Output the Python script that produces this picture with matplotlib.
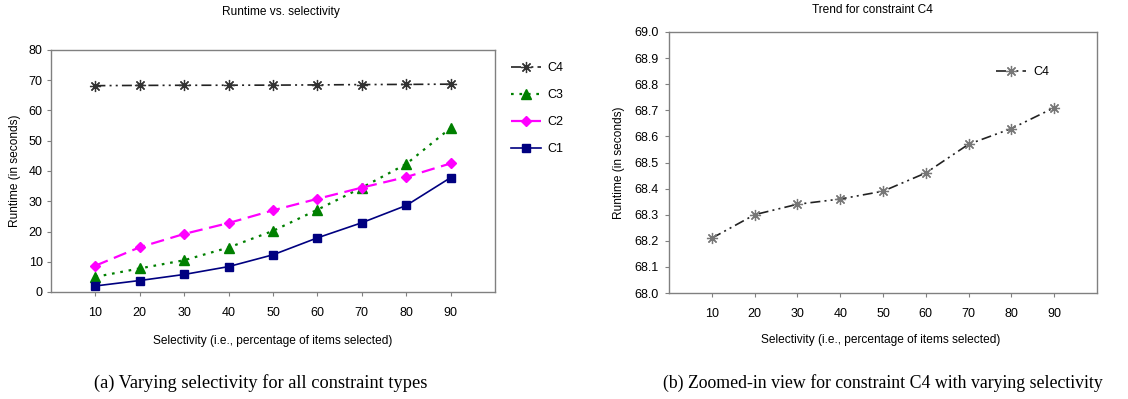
import matplotlib
matplotlib.use("Agg")
import matplotlib.pyplot as plt

plt.rcParams['font.family'] = ['Liberation Sans', 'DejaVu Sans']

selectivity = [10, 20, 30, 40, 50, 60, 70, 80, 90]
c4 = [68.21, 68.30, 68.34, 68.36, 68.39, 68.46, 68.57, 68.63, 68.71]
c3 = [5.0, 7.8, 10.5, 14.7, 20.2, 27.2, 34.5, 42.3, 54.2]
c2 = [8.7, 14.8, 19.2, 22.8, 27.0, 30.8, 34.5, 38.0, 42.5]
c1 = [2.0, 3.8, 5.8, 8.4, 12.3, 17.9, 22.9, 28.6, 37.8]
left_yticks = [0, 10, 20, 30, 40, 50, 60, 70, 80]
right_yticks = [68.0, 68.1, 68.2, 68.3, 68.4, 68.5, 68.6, 68.7, 68.8, 68.9, 69.0]

W, H = 1128, 399
fig = plt.figure(figsize=(W / 100, H / 100), dpi=100)

def frac_box(x0, x1, ytop, ybot):
    return [x0 / W, 1 - ybot / H, (x1 - x0) / W, (ybot - ytop) / H]

axL = fig.add_axes(frac_box(51, 495, 50, 292))
axR = fig.add_axes(frac_box(669, 1097, 32, 293))

pos = list(range(1, len(selectivity) + 1))
gray = '#808080'
ast = (8, 2, 0)
c4_dash = (6, 2.5, 1.2, 2.5, 1.2, 2.5)

axL.plot(pos, c4, label='C4', color='#222222', lw=1.2, dashes=c4_dash,
         marker=ast, ms=8, mec='#333333', mew=0.9)
axL.plot(pos, c3, label='C3', color='#008000', lw=1.6, dashes=(1.2, 2.6),
         marker='^', ms=6.5, mec='#008000', mfc='#008000')
axL.plot(pos, c2, label='C2', color='#FF00FF', lw=1.6, dashes=(6, 3),
         marker='D', ms=5, mec='#FF00FF', mfc='#FF00FF')
axL.plot(pos, c1, label='C1', color='#000080', lw=1.2,
         marker='s', ms=6, mec='#000080', mfc='#000080')

axR.plot(pos, c4, label='C4', color='#222222', lw=1.2, dashes=c4_dash,
         marker=ast, ms=8, mec='#777777', mew=0.9)

for ax, yt, fmt in ((axL, left_yticks, '{:g}'), (axR, right_yticks, '{:.1f}')):
    ax.set_xlim(0, 10)
    ax.set_xticks(pos)
    ax.set_xticklabels([str(s) for s in selectivity])
    ax.set_yticks(yt)
    ax.set_yticklabels([fmt.format(v) for v in yt])
    ax.set_ylim(yt[0], yt[-1])
    for sp in ax.spines.values():
        sp.set_color(gray)
        sp.set_linewidth(1.0)
    ax.tick_params(axis='x', direction='out', length=3, width=0.8, color=gray,
                   pad=8, labelsize=9)
    ax.tick_params(axis='y', direction='out', length=3, width=0.8, color=gray,
                   labelsize=9)
    ax.set_xlabel('Selectivity (i.e., percentage of items selected)', fontsize=8.6)
    ax.set_ylabel('Runtime (in seconds)', fontsize=8.6)

axL.tick_params(axis='y', pad=3)
axR.tick_params(axis='y', pad=4.5)
axL.xaxis.set_label_coords(0.5, -0.178)
axR.xaxis.set_label_coords(0.495, -0.157)
axL.yaxis.set_label_coords(-0.0675, 0.5)
axR.yaxis.set_label_coords(-0.103, 0.5)

fig.text(281 / W, 1 - 12 / H, 'Runtime vs. selectivity', ha='center', va='center', fontsize=8.6)
fig.text(872 / W, 1 - 10 / H, 'Trend for constraint C4', ha='center', va='center', fontsize=8.6)

hL, lL = axL.get_legend_handles_labels()
fig.legend(hL, lL, loc='upper left', bbox_to_anchor=(505 / W, 1 - 56 / H),
           frameon=False, fontsize=9, handlelength=2.4, handletextpad=0.5,
           labelspacing=1.2, borderpad=0)
hR, lR = axR.get_legend_handles_labels()
fig.legend(hR, lR, loc='upper left', bbox_to_anchor=(990 / W, 1 - 60 / H),
           frameon=False, fontsize=9, handlelength=2.4, handletextpad=0.6,
           borderpad=0)

serif = ['Liberation Serif', 'DejaVu Serif']
fig.text(261 / W, 1 - 383 / H, '(a) Varying selectivity for all constraint types',
         ha='center', va='center', fontsize=13.2, family=serif)
fig.text(883 / W, 1 - 383 / H, '(b) Zoomed-in view for constraint C4 with varying selectivity',
         ha='center', va='center', fontsize=12.8, family=serif)

fig.savefig('out.png', dpi=100, facecolor='white')
